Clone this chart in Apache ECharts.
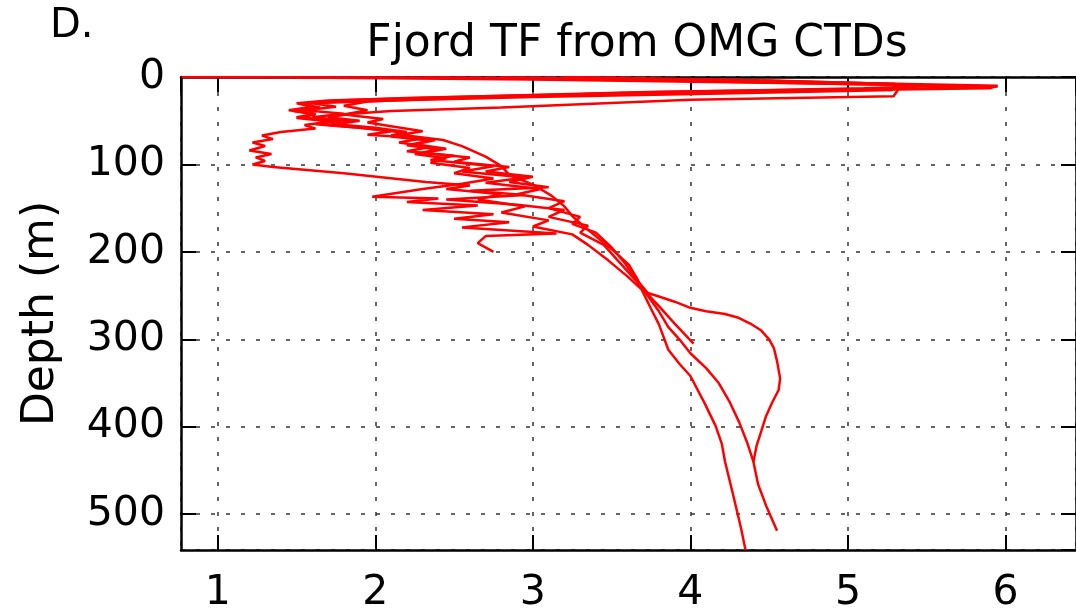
<!DOCTYPE html>
<html><head><meta charset="utf-8">
<script src="https://cdn.jsdelivr.net/npm/echarts@6/dist/echarts.min.js"></script>
<style>html,body{margin:0;padding:0;background:#fff;}#c{width:1076px;height:614px;}</style>
</head><body><div id="c"></div>
<script>
// Axis ranges and ticks
const xRange = [0.766, 6.448];
const yRange = [0, 541];
const xTickLabels = [1, 2, 3, 4, 5, 6];
const yTickLabels = [0, 100, 200, 300, 400, 500];
const titleText = 'Fjord TF from OMG CTDs';
const panelLabel = 'D.';
const yName = 'Depth (m)';

// Profiles: [thermal forcing, depth]
const profileA = [[0.77,0],[2.0,0.5],[3.3,1.5],[4.8,6],[5.95,10],[5.9,13],[4.6,16],[3.2,20],[2.2,24],[1.75,27],[1.55,31],[1.65,35],[1.48,39],[1.62,43],[1.5,47],[1.72,51],[1.55,55],[1.62,59],[1.4,63],[1.28,67],[1.35,71],[1.22,75],[1.3,79],[1.2,84],[1.34,88],[1.24,92],[1.3,96],[1.22,100],[1.35,103],[1.8,110],[2.32,120],[2.6,124],[2.45,128],[2.8,134],[2.65,140],[2.95,148],[2.8,155],[3.1,164],[3.0,171],[3.25,180],[3.35,192],[3.48,210],[3.6,228],[3.69,243],[3.75,265],[3.8,283],[3.86,312],[3.93,328],[4.0,342],[4.09,373],[4.16,399],[4.2,420],[4.22,440],[4.27,477],[4.32,515],[4.35,541]];
const profileB = [[3.2,0],[4.2,3],[5.3,8],[5.32,14],[5.29,22],[4.0,26],[2.8,35],[2.1,39],[1.85,42],[1.7,46],[1.9,50],[1.75,54],[2.0,58],[2.2,63],[2.1,67],[2.38,72],[2.25,77],[2.45,82],[2.3,87],[2.6,92],[2.5,97],[2.85,103],[2.7,108],[3.0,114],[2.85,120],[3.1,126],[2.6,130],[2.95,135],[2.45,140],[2.9,146],[3.2,152],[3.1,160],[3.35,170],[3.3,178],[3.45,192],[3.55,212],[3.65,232],[3.72,248],[3.8,268],[3.86,286],[3.93,300],[4.0,316],[4.1,333],[4.18,350],[4.25,372],[4.31,395],[4.36,418],[4.4,440],[4.43,466],[4.48,490],[4.55,519]];
const profileC = [[2.3,0.5],[3.8,4],[5.0,8],[5.6,10],[5.1,13],[3.6,18],[2.5,24],[1.95,28],[1.8,33],[1.95,38],[1.8,43],[2.05,48],[1.95,52],[2.16,58],[2.3,62],[2.16,66],[2.43,72],[2.55,79],[2.7,91],[2.8,102],[2.85,112],[3.0,123],[3.12,136],[3.2,148],[3.25,159],[3.33,172],[3.42,185],[3.52,200],[3.61,215],[3.66,230],[3.69,241],[3.8,262],[3.9,282],[4.02,305]];
const profileD = [[1.5,0.5],[3.0,3],[4.6,7],[5.95,11],[5.5,13],[3.8,17],[2.5,23],[1.7,27],[1.5,30],[1.6,34],[1.45,38],[1.62,42],[1.5,46],[1.78,50],[1.62,54],[1.9,58],[2.1,62],[1.95,66],[2.3,70],[2.15,75],[2.35,80],[2.2,85],[2.5,90],[2.35,95],[2.75,102],[2.55,108],[2.95,115],[2.7,121],[3.05,128],[2.9,134],[3.2,142],[3.1,150],[3.3,160],[3.25,168],[3.4,178],[3.5,195],[3.58,212],[3.65,230],[3.73,247],[3.8,251],[3.9,257],[4.0,264],[4.1,268],[4.22,271],[4.3,275],[4.38,282],[4.45,290],[4.5,300],[4.53,310],[4.55,325],[4.57,345],[4.56,358],[4.52,372],[4.48,388],[4.45,405],[4.42,422],[4.40,440]];
const profileE = [[2.8,0.5],[4.5,4],[5.3,8],[5.28,15],[4.2,19],[3.0,23],[2.1,27],[1.6,30],[1.75,34],[1.55,38],[1.8,42],[1.6,46],[1.85,50],[1.7,55],[1.95,59],[2.2,64],[2.1,68],[2.35,73],[2.2,78],[2.4,83],[2.25,88],[2.45,93],[2.35,98],[2.6,104],[2.5,110],[2.75,116],[2.55,122],[2.3,128],[1.98,137],[2.4,139],[2.2,143],[2.65,147],[2.3,152],[2.75,157],[2.5,162],[2.85,166],[2.55,172],[3.15,179],[2.7,182],[2.65,190],[2.75,200]];
const profiles = [profileA, profileB, profileC, profileD, profileE];

const FONT = 'DejaVu Sans';
const chart = echarts.init(document.getElementById('c'), null, {renderer: 'canvas'});
const gridLine = {show: true, lineStyle: {color: '#333', width: 1.5, type: [4, 11]}};
const spine = {show: true, onZero: false, lineStyle: {color: '#000', width: 2.5}};
const tick = {show: true, inside: true, length: 15, lineStyle: {color: '#000', width: 2}};

chart.setOption({
  animation: false,
  backgroundColor: '#fff',
  title: [
    {text: titleText, left: 632, top: 18, textAlign: 'center',
     textStyle: {fontFamily: FONT, fontSize: 44, fontWeight: 'normal', color: '#000'}},
    {text: panelLabel, left: 45, top: 2,
     textStyle: {fontFamily: FONT, fontSize: 40, fontWeight: 'normal', color: '#000'}}
  ],
  grid: {left: 181, right: -5, top: 77, bottom: 60, containLabel: false},
  xAxis: [
    {type: 'value', position: 'bottom', min: xRange[0], max: xRange[1], splitNumber: 5,
     axisLine: spine, axisTick: tick, splitLine: gridLine,
     axisLabel: {show: true, showMinLabel: false, showMaxLabel: false, margin: 23,
       fontFamily: FONT, fontSize: 41, color: '#000',
       formatter: v => xTickLabels.includes(Math.round(v*1000)/1000) ? String(v) : ''}},
    {type: 'value', position: 'top', min: xRange[0], max: xRange[1], splitNumber: 5,
     axisLine: spine, axisTick: tick, splitLine: {show: false}, axisLabel: {show: false}}
  ],
  yAxis: [
    {type: 'value', position: 'left', inverse: true, min: yRange[0], max: yRange[1], interval: 100,
     axisLine: spine, axisTick: tick, splitLine: gridLine,
     name: yName, nameLocation: 'middle', nameRotate: 90, nameGap: 117,
     nameTextStyle: {fontFamily: FONT, fontSize: 44, color: '#000'},
     axisLabel: {show: true, showMaxLabel: false, margin: 16, fontFamily: FONT, fontSize: 41, color: '#000',
       formatter: v => yTickLabels.includes(v) ? String(v) : ''}},
    {type: 'value', position: 'right', inverse: true, min: yRange[0], max: yRange[1], interval: 100,
     axisLine: spine, axisTick: tick, splitLine: {show: false}, axisLabel: {show: false}}
  ],
  series: profiles.map(p => ({
    type: 'line', data: p, xAxisIndex: 0, yAxisIndex: 0,
    showSymbol: false, symbol: 'none', smooth: false,
    lineStyle: {color: '#ff0000', width: 2.5}, clip: true
  }))
});
</script></body></html>
